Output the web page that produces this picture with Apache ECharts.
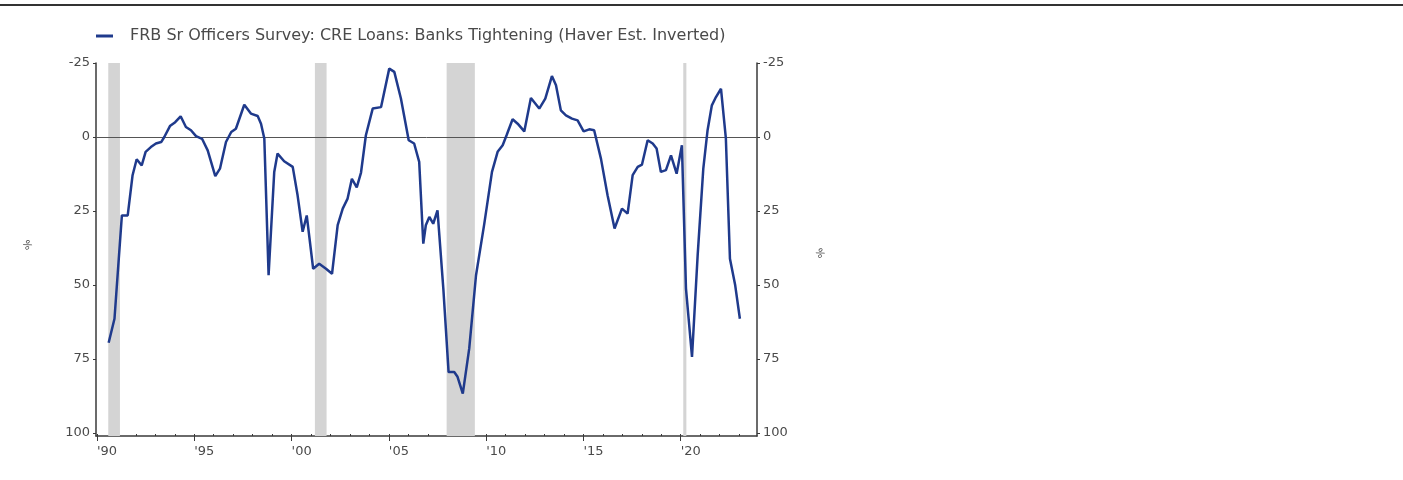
<!DOCTYPE html>
<html>
<head>
<meta charset="utf-8">
<script src="https://cdn.jsdelivr.net/npm/echarts@6/dist/echarts.min.js"></script>
<style>
html,body{margin:0;padding:0;background:#fff;}
#chart{width:1403px;height:480px;}
</style>
</head>
<body>
<div id="chart"></div>
<script>
// ---- data ----
const seriesName = 'FRB Sr Officers Survey: CRE Loans: Banks Tightening (Haver Est. Inverted)';
const dates = [
  1990.6,1990.9,1991.28,1991.58,1991.83,1992.04,1992.3,1992.5,1992.77,1993.03,
  1993.3,1993.46,1993.75,1994.02,1994.3,1994.57,1994.83,1995.09,1995.4,1995.69,
  1996.08,1996.32,1996.63,1996.9,1997.14,1997.57,1997.91,1998.26,1998.43,1998.6,
  1998.82,1999.11,1999.28,1999.62,2000.06,2000.31,2000.57,2000.78,2001.11,2001.42,
  2001.77,2002.08,2002.37,2002.63,2002.88,2003.1,2003.35,2003.57,2003.82,2004.17,
  2004.6,2005.02,2005.28,2005.62,2006.02,2006.3,2006.56,2006.77,2006.9,2007.08,
  2007.28,2007.5,2007.8,2008.07,2008.36,2008.53,2008.8,2009.13,2009.48,2009.9,
  2010.3,2010.59,2010.85,2011.05,2011.36,2011.62,2011.96,2012.3,2012.73,2013.04,
  2013.38,2013.59,2013.84,2014.1,2014.41,2014.7,2015.01,2015.3,2015.55,2015.9,
  2016.24,2016.6,2016.98,2017.27,2017.53,2017.79,2018.01,2018.3,2018.56,2018.76,
  2018.98,2019.24,2019.5,2019.79,2020.06,2020.27,2020.58,2020.87,2021.16,2021.38,
  2021.6,2021.81,2022.07,2022.32,2022.53,2022.8,2023.04
];
const values = [
  69.5,61.4,26.5,26.5,12.9,7.5,9.6,5,3.4,2.2,
  1.7,0,-3.7,-5,-7,-3.4,-2.3,-0.3,0.6,4.5,
  13.2,10.7,1.7,-1.7,-2.8,-10.9,-7.9,-7.1,-4.5,0.5,
  46.7,11.8,5.6,8.2,10.1,19.7,32,26.5,44.5,42.8,
  44.5,46.2,29.8,24.2,20.8,14.1,17,12,-0.6,-9.6,
  -10.1,-23.1,-22,-13,1.1,2.2,8.4,36,29.8,27,
  29.3,24.8,51.2,79.4,79.4,81,86.7,71.5,46.7,29.5,
  11.8,5,2.8,-0.6,-6,-4.5,-1.9,-13.2,-9.6,-13,
  -20.6,-17.5,-9,-7.3,-6.2,-5.6,-1.9,-2.6,-2.3,7.3,
  19.7,30.9,24.2,25.9,12.9,10.1,9.3,1.1,2.2,3.9,
  11.8,11.2,6.2,12.4,2.8,51.2,74.3,40,10.7,-2.3,
  -10.7,-13.5,-16.3,0.5,41.1,50.1,61.4
];
// recession periods (start, end) in decimal years
const recessions = [[1990.58,1991.18],[2001.2,2001.8],[2007.97,2009.42],[2020.13,2020.29]];
const yTicks = [-25,0,25,50,75,100];
const xMajor = [1990,1995,2000,2005,2010,2015,2020];
const xMinor = [];
for (let y = 1990; y <= 2023; y++) xMinor.push(y);

const chart = echarts.init(document.getElementById('chart'), null, {renderer:'canvas'});
const font = '"DejaVu Sans", Verdana, sans-serif';
const txt = '#4a4a4a';
const axisCol = '#3a3a3a';
const xMin = 1989.95, xMax = 2023.92;

const yAxisBase = {
  type:'value', min:-25, max:101, interval:25, inverse:true,
  splitLine:{show:false},
  axisLine:{show:true, lineStyle:{color:axisCol, width:1.5}},
  axisTick:{show:true, length:3, customValues:yTicks, lineStyle:{color:axisCol}},
  axisLabel:{customValues:yTicks, color:txt, fontFamily:font, fontSize:13, margin:6},
  name:'%', nameLocation:'middle', nameRotate:-60,
  nameTextStyle:{color:txt, fontFamily:font, fontSize:10}
};

chart.setOption({
  animation:false,
  backgroundColor:'#fff',
  graphic:[{type:'rect', left:0, top:4, shape:{width:1403, height:2}, style:{fill:'#333'}}],
  legend:{
    left:91, top:23, itemWidth:17, itemHeight:3, icon:'rect', itemGap:10,
    textStyle:{color:txt, fontFamily:font, fontSize:16, padding:[0,0,0,12]},
    data:[seriesName]
  },
  grid:{left:96, right:646, top:63, bottom:44, containLabel:false},
  xAxis:[{
    type:'value', min:xMin, max:xMax,
    splitLine:{show:false},
    axisLine:{show:true, onZero:false, lineStyle:{color:axisCol, width:1.5}},
    axisTick:{show:true, customValues:xMajor, length:5, inside:false, lineStyle:{color:axisCol}},
    axisLabel:{customValues:xMajor, color:txt, fontFamily:font, fontSize:13, align:'left', margin:9,
      formatter:v => "'" + String(Math.round(v)).slice(2)}
  },{
    type:'value', min:xMin, max:xMax, position:'bottom',
    splitLine:{show:false},
    axisLine:{show:false, onZero:false},
    axisTick:{show:true, customValues:xMinor, length:2, inside:true, lineStyle:{color:axisCol}},
    axisLabel:{show:false}
  }],
  yAxis:[
    Object.assign({}, yAxisBase, {position:'left', nameGap:67}),
    Object.assign({}, yAxisBase, {position:'right', nameGap:60})
  ],
  series:[{
    name:seriesName, type:'line', xAxisIndex:0, yAxisIndex:0,
    data:dates.map((d,i)=>[d, values[i]]),
    showSymbol:false, symbol:'none',
    lineStyle:{color:'#1f3a8c', width:2.5},
    itemStyle:{color:'#1f3a8c'},
    z:5,
    markArea:{silent:true, itemStyle:{color:'#d4d4d4'},
      data:recessions.map(r=>[{xAxis:r[0]},{xAxis:r[1]}])},
    markLine:{silent:true, symbol:'none', label:{show:false},
      lineStyle:{color:'#555', width:1, type:'solid'},
      data:[{yAxis:0}]}
  }]
});
</script>
</body>
</html>
